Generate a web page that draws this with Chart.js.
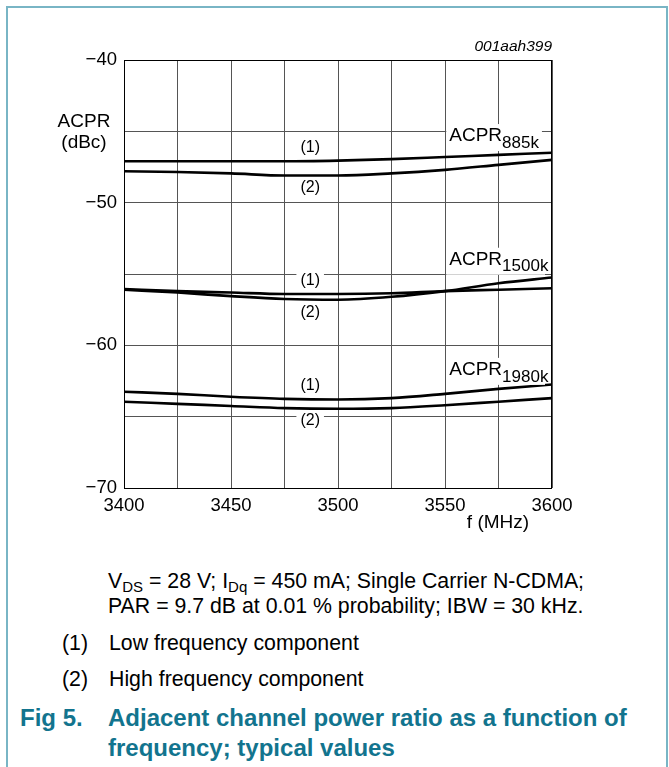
<!DOCTYPE html>
<html lang="en">
<head>
    <meta charset="UTF-8">
    <title>ACPR vs frequency</title>
    <script src="https://cdn.jsdelivr.net/npm/chart.js@4.4.1/dist/chart.umd.min.js"></script>
    <style>
        body { margin: 0; width: 669px; height: 767px; overflow: hidden; background: #fff; font-family: "Liberation Sans", Arial, sans-serif; color: #000; position: relative; }
        .frame { position: absolute; left: 6px; top: 6px; width: 662px; height: 800px; box-sizing: border-box; border: 2px solid #79b5c5; border-bottom: none; }
        .chart-box { position: absolute; left: 0; top: 0; width: 669px; height: 540px; }
        .txt { position: absolute; white-space: nowrap; font-size: 21.3px; line-height: 24px; }
        .txt sub { font-size: 15px; vertical-align: -4px; line-height: 0; }
        .title { position: absolute; white-space: nowrap; font-size: 24px; line-height: 28px; font-weight: bold; color: #12748e; }
    </style>
</head>
<body>
    <div class="frame"></div>
    <div class="chart-box"><canvas id="acpr-chart"></canvas></div>

    <div class="txt" style="left:108px; top:569px;">V<sub>DS</sub> = 28 V; I<sub>Dq</sub> = 450 mA; Single Carrier N-CDMA;</div>
    <div class="txt" style="left:108px; top:594px;">PAR = 9.7 dB at 0.01 % probability; IBW = 30 kHz.</div>
    <div class="txt" style="left:62px; top:631px;">(1)</div>
    <div class="txt" style="left:109px; top:631px;">Low frequency component</div>
    <div class="txt" style="left:62px; top:667px;">(2)</div>
    <div class="txt" style="left:109px; top:667px;">High frequency component</div>
    <div class="title" style="left:20px; top:704px;">Fig 5.</div>
    <div class="title" style="left:108px; top:704px;">Adjacent channel power ratio as a function of</div>
    <div class="title" style="left:108px; top:734px;">frequency; typical values</div>

    <script>
        const freqs = [3400, 3425, 3450, 3475, 3500, 3525, 3550, 3575, 3600];

        const acpr885Low = [-47.1, -47.1, -47.1, -47.1, -47.05, -46.95, -46.8, -46.65, -46.5];
        const acpr885High = [-47.8, -47.85, -47.95, -48.1, -48.1, -47.95, -47.7, -47.35, -47.0];
        const acpr1500Low = [-56.05, -56.2, -56.3, -56.4, -56.4, -56.35, -56.2, -56.1, -56.0];
        const acpr1500High = [-56.1, -56.3, -56.55, -56.75, -56.8, -56.6, -56.2, -55.65, -55.25];
        const acpr1980Low = [-63.25, -63.4, -63.6, -63.75, -63.8, -63.7, -63.4, -63.05, -62.75];
        const acpr1980High = [-63.95, -64.1, -64.25, -64.4, -64.45, -64.4, -64.2, -63.95, -63.7];

        const xTicks = [3400, 3450, 3500, 3550, 3600];
        const yTicks = [-40, -50, -60, -70];

        // in-plot labels: [x, y, main text, subscript]
        const curveLabels = [
            [3487, -46.17, '(1)', ''],
            [3487, -48.97, '(2)', ''],
            [3487, -55.49, '(1)', ''],
            [3487, -57.73, '(2)', ''],
            [3487, -62.85, '(1)', ''],
            [3487, -65.30, '(2)', ''],
            [3552, -45.33, 'ACPR', '885k'],
            [3552, -54.0, 'ACPR', '1500k'],
            [3552, -61.72, 'ACPR', '1980k']
        ];

        const series = [acpr885Low, acpr885High, acpr1500Low, acpr1500High, acpr1980Low, acpr1980High];
        const FONT = '"Liberation Sans", Arial, sans-serif';

        const labelPlugin = {
            id: 'labels',
            afterDatasetsDraw(chart) {
                const ctx = chart.ctx, xs = chart.scales.x, ys = chart.scales.y, area = chart.chartArea;
                ctx.save();
                curveLabels.forEach(([x, y, main, sub]) => {
                    const px = xs.getPixelForValue(x), py = ys.getPixelForValue(y);
                    ctx.textBaseline = 'middle';
                    if (!sub) {
                        ctx.font = '16px ' + FONT;
                        const w = ctx.measureText(main).width;
                        ctx.fillStyle = '#fff';
                        ctx.fillRect(px - w / 2 - 4, py - 9, w + 8, 18);
                        ctx.fillStyle = '#000';
                        ctx.textAlign = 'center';
                        ctx.fillText(main, px, py);
                    } else {
                        ctx.font = '19px ' + FONT;
                        const w1 = ctx.measureText(main).width;
                        ctx.font = '17px ' + FONT;
                        const w2 = ctx.measureText(sub).width;
                        ctx.fillStyle = '#fff';
                        ctx.fillRect(px - 3, py - 12, Math.min(w1 + w2 + 6, area.right - px - 4), 27);
                        ctx.fillStyle = '#000';
                        ctx.textAlign = 'left';
                        ctx.font = '19px ' + FONT;
                        ctx.fillText(main, px, py);
                        ctx.font = '17px ' + FONT;
                        ctx.fillText(sub, px + w1, py + 7);
                    }
                });
                // plot frame
                ctx.strokeStyle = '#000';
                ctx.lineWidth = 1;
                ctx.strokeRect(area.left + 0.5, area.top + 0.5, area.right - area.left - 1, area.bottom - area.top);
                // axis titles and code
                ctx.fillStyle = '#000';
                ctx.textAlign = 'center';
                ctx.textBaseline = 'middle';
                ctx.font = '19px ' + FONT;
                ctx.fillText('ACPR', 84, 122);
                ctx.fillText('(dBc)', 84, 143);
                ctx.fillText('f (MHz)', 498, 523);
                ctx.textAlign = 'right';
                ctx.font = 'italic 15.5px ' + FONT;
                ctx.fillText('001aah399', area.right, 47);
                ctx.restore();
            }
        };

        new Chart(document.getElementById('acpr-chart'), {
            type: 'line',
            data: {
                datasets: series.map(vals => ({
                    data: vals.map((v, i) => ({ x: freqs[i], y: v })),
                    borderColor: '#000',
                    borderWidth: 2.6,
                    pointRadius: 0,
                    tension: 0.4,
                    cubicInterpolationMode: 'monotone',
                    fill: false
                }))
            },
            options: {
                responsive: true,
                maintainAspectRatio: false,
                animation: false,
                events: [],
                layout: { padding: { left: 0, top: 60, right: 117, bottom: 0 } },
                plugins: { legend: { display: false }, tooltip: { enabled: false } },
                scales: {
                    x: {
                        type: 'linear',
                        min: 3400,
                        max: 3600,
                        afterFit: s => { s.height = 52; },
                        afterBuildTicks: s => { s.ticks = freqs.map(v => ({ value: v })); },
                        grid: { color: '#555', lineWidth: 1, drawTicks: false },
                        border: { display: false },
                        ticks: {
                            padding: 7,
                            maxRotation: 0,
                            autoSkip: false,
                            color: '#000',
                            font: { family: FONT, size: 18.5 },
                            callback: v => xTicks.includes(v) ? String(v) : ''
                        }
                    },
                    y: {
                        min: -70,
                        max: -40,
                        afterFit: s => { s.width = 124; },
                        afterBuildTicks: s => {
                            const t = [];
                            for (let v = -70; v <= -40; v += 5) t.push({ value: v });
                            s.ticks = t;
                        },
                        grid: { color: '#555', lineWidth: 1, drawTicks: false },
                        border: { display: false },
                        ticks: {
                            padding: 7,
                            autoSkip: false,
                            color: '#000',
                            font: { family: FONT, size: 18.5 },
                            callback: v => yTicks.includes(v) ? '\u2212' + Math.abs(v) : ''
                        }
                    }
                }
            },
            plugins: [labelPlugin]
        });
    </script>
</body>
</html>
